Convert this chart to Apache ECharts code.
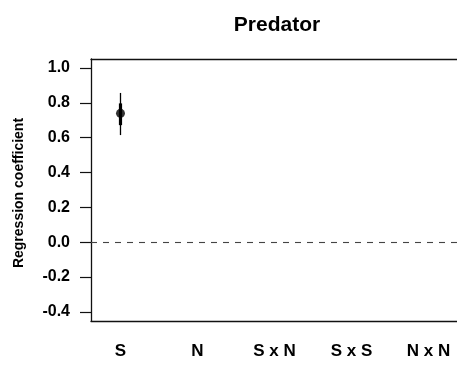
<!DOCTYPE html>
<html>
<head>
<meta charset="utf-8">
<script src="https://cdn.jsdelivr.net/npm/echarts@6/dist/echarts.min.js"></script>
<style>
  html, body { margin: 0; padding: 0; background: #fff; }
  #chart { width: 457px; height: 365px; }
</style>
</head>
<body>
<div id="chart"></div>
<script>
// ---- data ----
const categories = ['S', 'N', 'S x N', 'S x S', 'N x N'];
const positions = [1, 2, 3, 4, 5];
const estimates = [0.74];          // only S has an estimate
const outerLow = [0.615];
const outerHigh = [0.857];
const innerLow = [0.672];
const innerHigh = [0.797];
const yTicks = [-0.4, -0.2, 0.0, 0.2, 0.4, 0.6, 0.8, 1.0];
const titleText = 'Predator';
const yTitle = 'Regression coefficient';

const FONT = '"Liberation Sans", Arial, Helvetica, sans-serif';

const pointData = estimates.map((v, i) => [positions[i], v]);
const barData = estimates.map((v, i) => [positions[i], outerLow[i], outerHigh[i], innerLow[i], innerHigh[i]]);

const chart = echarts.init(document.getElementById('chart'), null, { renderer: 'canvas' });
chart.setOption({
  animation: false,
  backgroundColor: '#fff',
  grid: { left: 91, right: 0, top: 59, bottom: 44, containLabel: false },
  graphic: [
    {
      type: 'text', x: 277, y: 25,
      style: { text: titleText, font: 'bold 21px ' + FONT, fill: '#000', align: 'center', verticalAlign: 'middle' }
    },
    {
      type: 'text', x: 19, y: 193, rotation: Math.PI / 2,
      style: { text: yTitle, font: 'bold 14px ' + FONT, fill: '#000', align: 'center', verticalAlign: 'middle' }
    }
  ],
  xAxis: [
    {
      type: 'value', position: 'bottom',
      min: 0.617, max: 5.37,
      axisLine: { show: true, onZero: false, lineStyle: { color: '#111', width: 1.3 } },
      axisTick: { show: false },
      splitLine: { show: false },
      axisLabel: {
        customValues: positions,
        formatter: v => categories[positions.indexOf(Math.round(v))] || '',
        margin: 22,
        fontFamily: FONT, fontWeight: 'bold', fontSize: 17, color: '#000'
      }
    },
    {
      type: 'value', position: 'top',
      min: 0.617, max: 5.37,
      axisLine: { show: true, onZero: false, lineStyle: { color: '#111', width: 1.3 } },
      axisTick: { show: false }, axisLabel: { show: false }, splitLine: { show: false }
    }
  ],
  yAxis: {
    type: 'value',
    min: -0.453, max: 1.052,
    axisLine: { show: true, onZero: false, lineStyle: { color: '#111', width: 1.3 } },
    axisTick: { show: true, inside: false, length: 11, customValues: yTicks, lineStyle: { color: '#111', width: 1.2 } },
    splitLine: { show: false },
    axisLabel: {
      customValues: yTicks,
      formatter: v => v.toFixed(1),
      margin: 21,
      fontFamily: FONT, fontWeight: 'bold', fontSize: 16, color: '#000'
    }
  },
  series: [
    {
      type: 'custom',
      xAxisIndex: 0,
      data: barData,
      renderItem: function (params, api) {
        const x = api.value(0);
        const pLo = api.coord([x, api.value(1)]);
        const pHi = api.coord([x, api.value(2)]);
        const iLo = api.coord([x, api.value(3)]);
        const iHi = api.coord([x, api.value(4)]);
        return {
          type: 'group',
          children: [
            { type: 'line', shape: { x1: pLo[0], y1: pLo[1], x2: pHi[0], y2: pHi[1] }, style: { stroke: '#000', lineWidth: 1.3 } },
            { type: 'line', shape: { x1: iLo[0], y1: iLo[1], x2: iHi[0], y2: iHi[1] }, style: { stroke: '#000', lineWidth: 3.2 } }
          ]
        };
      },
      z: 2
    },
    {
      type: 'scatter',
      xAxisIndex: 0,
      data: pointData,
      symbol: 'circle',
      symbolSize: 9,
      itemStyle: { color: '#000' },
      z: 3,
      markLine: {
        silent: true,
        symbol: ['none', 'none'],
        label: { show: false },
        lineStyle: { color: '#444', width: 1.1, type: [6, 6] },
        data: [{ yAxis: 0 }]
      }
    }
  ]
});
</script>
</body>
</html>
